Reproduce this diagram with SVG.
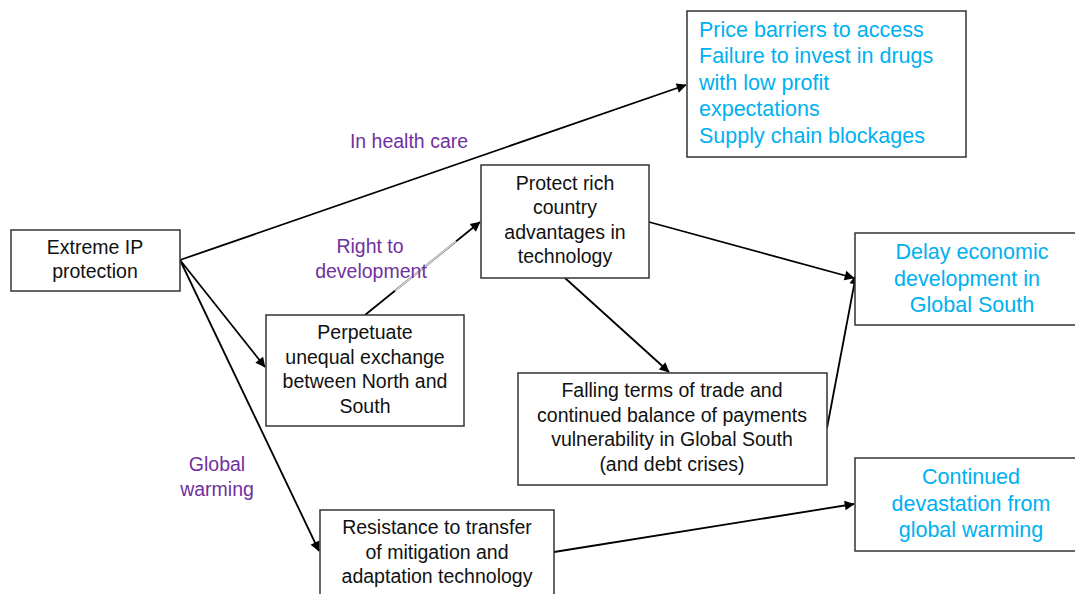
<svg xmlns="http://www.w3.org/2000/svg" width="1075" height="594" viewBox="0 0 1075 594">
<style>
.box{fill:#fff;stroke:#333;stroke-width:1.5}
.t{font-family:"Liberation Sans",Arial,sans-serif;font-size:19.5px;fill:#111;text-anchor:middle}
.b{font-family:"Liberation Sans",Arial,sans-serif;font-size:21.5px;fill:#00B0F0}
.bc{text-anchor:middle}
.p{font-family:"Liberation Sans",Arial,sans-serif;font-size:19.5px;fill:#7030A0;text-anchor:middle}
.c{stroke:#000;stroke-width:1.8;fill:none;marker-end:url(#ah)}
</style>
<defs>
<marker id="ah" viewBox="0 0 10 10" refX="9" refY="5" markerWidth="7" markerHeight="7" markerUnits="userSpaceOnUse" orient="auto" style="overflow:visible">
<path d="M0,0 L10,5 L0,10 z" fill="#000" transform="scale(1.4) translate(-3,-1.4)"/>
</marker>
</defs>
<rect width="1075" height="594" fill="#fff"/>
<g id="connectors">
<line class="c" x1="180" y1="260" x2="686" y2="85"/>
<line class="c" x1="180" y1="260" x2="265" y2="367"/>
<line class="c" x1="180" y1="260" x2="319" y2="551"/>
<line class="c" x1="365" y1="315" x2="480" y2="222"/>
<line x1="395" y1="291" x2="456" y2="241" stroke="#ccc" stroke-width="2"/>
<line class="c" x1="649" y1="222" x2="854" y2="278"/>
<line class="c" x1="565" y1="278" x2="669" y2="372"/>
<line class="c" x1="827" y1="428" x2="856" y2="275"/>
<line class="c" x1="554" y1="552" x2="854" y2="504"/>
</g>
<g id="n-extreme">
<rect class="box" x="11" y="230" width="169" height="61"/>
<text class="t" x="95" y="254">Extreme IP</text>
<text class="t" x="95" y="278">protection</text>
</g>
<g id="n-price">
<rect class="box" x="687" y="11" width="279" height="146"/>
<text class="b" x="699" y="37">Price barriers to access</text>
<text class="b" x="699" y="63">Failure to invest in drugs</text>
<text class="b" x="699" y="90">with low profit</text>
<text class="b" x="699" y="116">expectations</text>
<text class="b" x="699" y="143">Supply chain blockages</text>
</g>
<g id="n-protect">
<rect class="box" x="481" y="165" width="168" height="113"/>
<text class="t" x="565" y="190">Protect rich</text>
<text class="t" x="565" y="214">country</text>
<text class="t" x="565" y="239">advantages in</text>
<text class="t" x="565" y="263">technology</text>
</g>
<g id="n-delay">
<rect class="box" x="855" y="233" width="225" height="92"/>
<text class="b bc" x="972" y="259">Delay economic</text>
<text class="b bc" x="967" y="286">development in</text>
<text class="b bc" x="972" y="312">Global South</text>
</g>
<g id="n-perpetuate">
<rect class="box" x="266" y="315" width="198" height="111"/>
<text class="t" x="365" y="339">Perpetuate</text>
<text class="t" x="365" y="364">unequal exchange</text>
<text class="t" x="365" y="388">between North and</text>
<text class="t" x="365" y="413">South</text>
</g>
<g id="n-falling">
<rect class="box" x="518" y="373" width="309" height="112"/>
<text class="t" x="672" y="397">Falling terms of trade and</text>
<text class="t" x="672" y="422">continued balance of payments</text>
<text class="t" x="672" y="446">vulnerability in Global South</text>
<text class="t" x="672" y="471">(and debt crises)</text>
</g>
<g id="n-continued">
<rect class="box" x="855" y="458" width="225" height="93"/>
<text class="b bc" x="971" y="484">Continued</text>
<text class="b bc" x="971" y="511">devastation from</text>
<text class="b bc" x="971" y="537">global warming</text>
</g>
<g id="n-resistance">
<rect class="box" x="320" y="510" width="234" height="95"/>
<text class="t" x="437" y="534">Resistance to transfer</text>
<text class="t" x="437" y="559">of mitigation and</text>
<text class="t" x="437" y="583">adaptation technology</text>
</g>
<g id="labels">
<text class="p" x="409" y="148">In health care</text>
<text class="p" x="370" y="253">Right to</text>
<text class="p" x="371" y="278">development</text>
<text class="p" x="217" y="471">Global</text>
<text class="p" x="217" y="496">warming</text>
</g>
</svg>
